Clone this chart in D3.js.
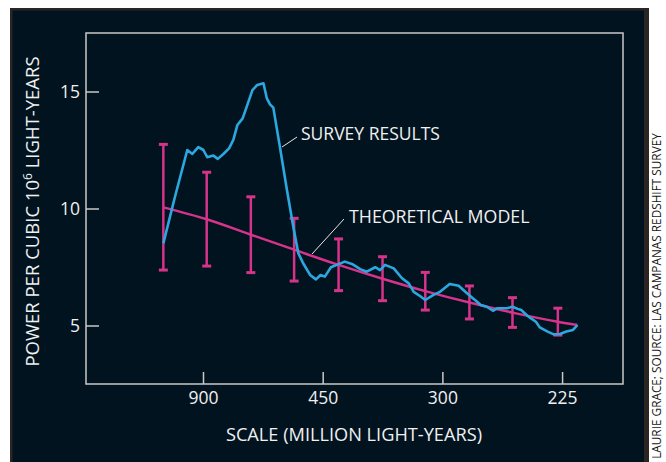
<!DOCTYPE html>
<html>
<head>
<meta charset="utf-8">
<script src="https://cdn.jsdelivr.net/npm/d3@7"></script>
<style>
  body { margin: 0; background: #fff; }
  text { font-family: "Open Sans", sans-serif; }
</style>
</head>
<body>
<div id="chart"></div>
<script>
// ---------- data (scale in million light-years, power per cubic 10^6 ly) ----------
const surveyScale = [1346, 1175, 1036, 988, 937, 897, 869, 828, 801, 769, 739, 718, 699, 676,
  657, 637, 619, 598, 587, 577, 567, 548, 529, 513, 501, 490, 475, 463, 454, 446, 435, 425,
  412, 401, 389, 380, 369, 363, 357, 347, 338, 331, 326, 320, 315, 308, 302, 294, 287, 282,
  277, 275, 271, 267, 263, 260, 254, 251, 248, 246, 242, 238, 236, 232, 229, 226, 223, 220, 218];
const surveyPower = [8.51, 10.5, 12.5, 12.33, 12.62, 12.5, 12.19, 12.26, 12.12, 12.33, 12.57,
  12.93, 13.57, 13.85, 14.42, 15.06, 15.28, 15.35, 14.71, 14.45, 14.31, 12.64, 10.79, 9.22,
  8.09, 7.66, 7.16, 6.97, 7.16, 7.09, 7.49, 7.59, 7.73, 7.63, 7.41, 7.3, 7.49, 7.37, 7.59,
  7.44, 7.02, 6.8, 6.44, 6.26, 6.09, 6.3, 6.44, 6.77, 6.7, 6.44, 6.19, 6.09, 5.88, 5.8, 5.63,
  5.74, 5.74, 5.8, 5.71, 5.66, 5.38, 5.16, 4.92, 4.74, 4.62, 4.64, 4.74, 4.81, 5.02];

const modelScale = [1346, 873, 643, 511, 422, 360, 315, 279, 251, 227, 218];
const modelPower = [10.05, 9.54, 8.88, 8.24, 7.59, 7.0, 6.47, 5.98, 5.55, 5.16, 5.02];

const errScale = [1346, 873, 643, 511, 422, 360, 315, 279, 251, 227];
const errLow = [7.37, 7.54, 7.26, 6.9, 6.49, 6.06, 5.66, 5.28, 4.92, 4.59];
const errHigh = [12.74, 11.55, 10.5, 9.58, 8.7, 7.94, 7.27, 6.69, 6.19, 5.74];

const xTicks = [900, 450, 300, 225];
const yTicks = [5, 10, 15];

// ---------- setup ----------
const w = 666, h = 462;
const plotL = 86, plotR = 623, plotT = 33, plotB = 384;
const blue = "#2ba8df", pink = "#d6338a", frameCol = "#c9c9c9", ink = "#f0f0f0";

const svg = d3.select("#chart").append("svg").attr("width", w).attr("height", h);

// dark panel with thin grey border
svg.append("rect").attr("x", 10).attr("y", 8).attr("width", 639).attr("height", 460).attr("fill", "#2b2624");
svg.append("rect").attr("x", 12.5).attr("y", 10.5).attr("width", 631.5).attr("height", 460).attr("fill", "#01131f");

// x is linear in wavenumber (1/scale)
const x = d3.scalePow().exponent(-1).domain([40000, 199.6]).range([plotL, plotR]);
const y = d3.scaleLinear().domain([2.5, 17.5]).range([plotB, plotT]);

// frame
svg.append("rect")
  .attr("x", plotL).attr("y", plotT)
  .attr("width", plotR - plotL).attr("height", plotB - plotT)
  .attr("fill", "none").attr("stroke", frameCol).attr("stroke-width", 1.5);

// axes
const yAxis = svg.append("g")
  .attr("transform", "translate(" + plotL + ",0)")
  .call(d3.axisLeft(y).tickValues(yTicks).tickSizeInner(-13).tickSizeOuter(0).tickPadding(6));
const xAxis = svg.append("g")
  .attr("transform", "translate(0," + plotB + ")")
  .call(d3.axisBottom(x).tickValues(xTicks).tickFormat(d3.format("d"))
    .tickSizeInner(-12).tickSizeOuter(0).tickPadding(8));
[xAxis, yAxis].forEach(function (g) {
  g.select(".domain").remove();
  g.selectAll("line").attr("stroke", frameCol).attr("stroke-width", 1.5);
  g.selectAll("text").attr("fill", ink).style("font-size", "17.5px")
    .style("font-family", "'Open Sans', sans-serif");
});

// error bars
const capW = 4.5;
const bars = svg.append("g").attr("stroke", pink).attr("stroke-width", 2.5);
errScale.forEach(function (s, i) {
  const cx = x(s);
  bars.append("line").attr("x1", cx).attr("x2", cx).attr("y1", y(errLow[i])).attr("y2", y(errHigh[i]));
  bars.append("line").attr("x1", cx - capW).attr("x2", cx + capW).attr("y1", y(errLow[i])).attr("y2", y(errLow[i])).attr("stroke-width", 3);
  bars.append("line").attr("x1", cx - capW).attr("x2", cx + capW).attr("y1", y(errHigh[i])).attr("y2", y(errHigh[i])).attr("stroke-width", 3);
});

// theoretical model
const model = modelScale.map((s, i) => [s, modelPower[i]]);
svg.append("path")
  .datum(model)
  .attr("d", d3.line().x(d => x(d[0])).y(d => y(d[1])).curve(d3.curveMonotoneX))
  .attr("fill", "none").attr("stroke", pink).attr("stroke-width", 2.5);

// survey results
const survey = surveyScale.map((s, i) => [s, surveyPower[i]]);
svg.append("path")
  .datum(survey)
  .attr("d", d3.line().x(d => x(d[0])).y(d => y(d[1])))
  .attr("fill", "none").attr("stroke", blue).attr("stroke-width", 2.6)
  .attr("stroke-linejoin", "round");

// annotations
svg.append("line").attr("x1", 282).attr("y1", 147).attr("x2", 297).attr("y2", 137)
  .attr("stroke", "#e8e8e8").attr("stroke-width", 1);
svg.append("text").attr("x", 301).attr("y", 140).attr("fill", ink)
  .style("font-size", "17.5px").text("SURVEY RESULTS");

svg.append("line").attr("x1", 312).attr("y1", 254).attr("x2", 344).attr("y2", 219)
  .attr("stroke", "#e8e8e8").attr("stroke-width", 1);
svg.append("text").attr("x", 349).attr("y", 223).attr("fill", ink)
  .style("font-size", "17.8px").text("THEORETICAL MODEL");

// axis titles
svg.append("text").attr("x", 354).attr("y", 441)
  .attr("text-anchor", "middle").attr("fill", ink)
  .style("font-size", "18.2px").text("SCALE (MILLION LIGHT-YEARS)");

const yl = svg.append("text")
  .attr("transform", "translate(39,211.5) rotate(-90)")
  .attr("text-anchor", "middle").attr("fill", ink)
  .style("font-size", "18.5px");
yl.append("tspan").text("POWER PER CUBIC 10");
yl.append("tspan").attr("dy", -7).style("font-size", "12px").text("6");
yl.append("tspan").attr("dy", 7).text(" LIGHT-YEARS");

// credit
svg.append("text")
  .attr("transform", "translate(661,296) rotate(-90)")
  .attr("text-anchor", "middle").attr("fill", "#161616")
  .style("font-size", "11.8px").text("LAURIE GRACE; SOURCE: LAS CAMPANAS REDSHIFT SURVEY");
</script>
</body>
</html>
